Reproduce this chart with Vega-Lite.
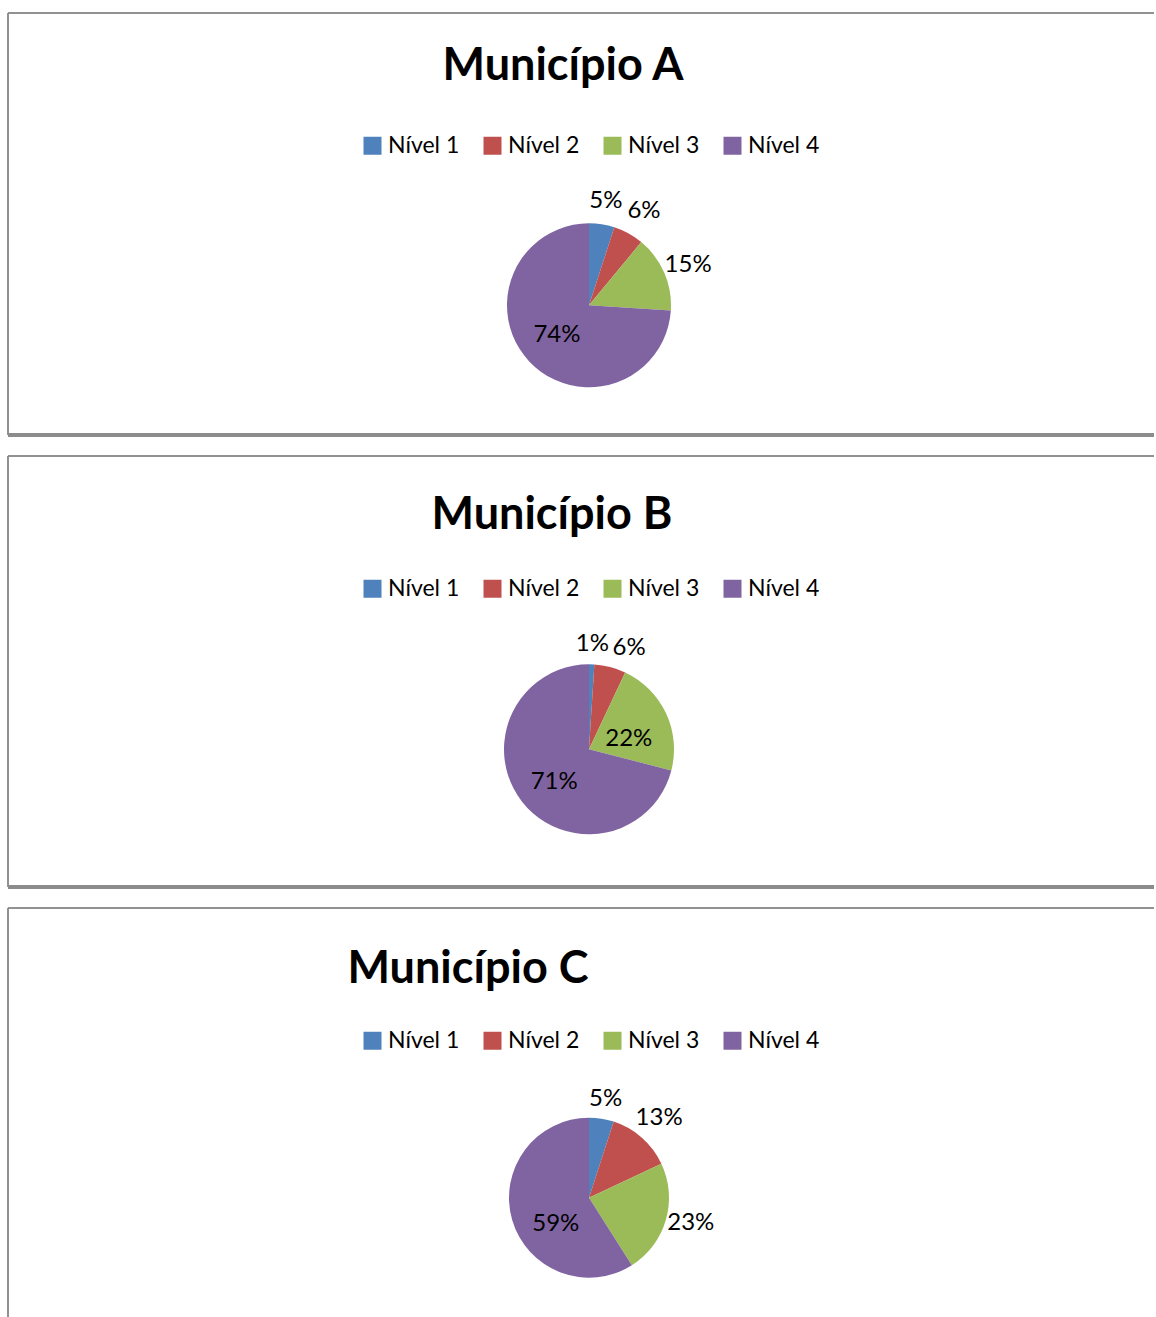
{
  "$schema": "https://vega.github.io/schema/vega-lite/v6.json",
  "background": "white",
  "padding": {"left": 6, "top": 12, "right": 0, "bottom": 0},
  "spacing": 18,
  "datasets": {
    "niveis": [
      {"municipio": "A", "nivel": "Nível 1", "pct": 0.05},
      {"municipio": "A", "nivel": "Nível 2", "pct": 0.06},
      {"municipio": "A", "nivel": "Nível 3", "pct": 0.15},
      {"municipio": "A", "nivel": "Nível 4", "pct": 0.74},
      {"municipio": "B", "nivel": "Nível 1", "pct": 0.01},
      {"municipio": "B", "nivel": "Nível 2", "pct": 0.06},
      {"municipio": "B", "nivel": "Nível 3", "pct": 0.22},
      {"municipio": "B", "nivel": "Nível 4", "pct": 0.71},
      {"municipio": "C", "nivel": "Nível 1", "pct": 0.05},
      {"municipio": "C", "nivel": "Nível 2", "pct": 0.13},
      {"municipio": "C", "nivel": "Nível 3", "pct": 0.23},
      {"municipio": "C", "nivel": "Nível 4", "pct": 0.59}
    ]
  },
  "config": {
    "view": {"stroke": null},
    "font": "Lato",
    "title": {"font": "Lato", "fontWeight": "bold", "fontSize": 45, "color": "black", "anchor": "middle", "baseline": "alphabetic", "frame": "group"},
    "legend": {
      "orient": "none", "direction": "horizontal", "title": null,
      "symbolType": "square", "symbolSize": 324, "symbolStrokeWidth": 0,
      "labelFont": "Lato", "labelFontSize": 23, "labelColor": "black",
      "labelOffset": 4, "columnPadding": 21, "legendX": 353, "legendY": 121
    }
  },
  "resolve": {"scale": {"color": "independent"}, "legend": {"color": "independent"}},
  "vconcat": [
    {
      "width": 1146, "height": 422,
      "title": {"text": "Município A", "offset": -76, "dx": -18},
      "data": {"name": "niveis"},
      "transform": [{"filter": "datum.municipio == 'A'"}],
      "encoding": {
        "theta": {"field": "pct", "type": "quantitative", "stack": true},
        "order": {"field": "nivel", "type": "ordinal", "sort": "ascending"}
      },
      "layer": [
        {
          "mark": {"type": "rule", "color": "#8a8a8a", "strokeWidth": 1},
          "encoding": {"y": {"value": 0}, "theta": null, "order": null}
        },
        {
          "mark": {"type": "rule", "color": "#8a8a8a", "strokeWidth": 1},
          "encoding": {"x": {"value": 0}, "theta": null, "order": null}
        },
        {
          "mark": {"type": "rule", "color": "#8c8c8c", "strokeWidth": 4},
          "encoding": {"y": {"value": "height"}, "theta": null, "order": null}
        },
        {
          "mark": {"type": "arc", "outerRadius": 82, "xOffset": 8, "yOffset": 81.3},
          "encoding": {
            "color": {"field": "nivel", "type": "nominal",
              "scale": {"domain": ["Nível 1", "Nível 2", "Nível 3", "Nível 4"], "range": ["#4f81bd", "#c0504d", "#9bbb59", "#8064a2"]}}
          }
        },
        {
          "mark": {"type": "text", "font": "Lato", "fontSize": 24, "color": "black", "align": "center", "baseline": "middle",
            "xOffset": 8, "yOffset": 81.3, "radius": {"expr": "datum.pct < 0.2 ? 108 : 44"},
            "dx": {"expr": "datum.nivel == 'Nível 2' ? 3 : 0"},
            "dy": {"expr": "datum.nivel == 'Nível 1' ? 2 : datum.nivel == 'Nível 3' ? 3 : 0"}},
          "encoding": {
            "detail": {"field": "nivel", "type": "nominal"},
            "text": {"field": "pct", "type": "quantitative", "format": ".0%"}
          }
        }
      ]
    },
    {
      "width": 1146, "height": 431,
      "title": {"text": "Município B", "offset": -82, "dx": -29},
      "data": {"name": "niveis"},
      "transform": [{"filter": "datum.municipio == 'B'"}],
      "encoding": {
        "theta": {"field": "pct", "type": "quantitative", "stack": true},
        "order": {"field": "nivel", "type": "ordinal", "sort": "ascending"}
      },
      "layer": [
        {
          "mark": {"type": "rule", "color": "#8a8a8a", "strokeWidth": 1},
          "encoding": {"y": {"value": 0}, "theta": null, "order": null}
        },
        {
          "mark": {"type": "rule", "color": "#8a8a8a", "strokeWidth": 1},
          "encoding": {"x": {"value": 0}, "theta": null, "order": null}
        },
        {
          "mark": {"type": "rule", "color": "#8c8c8c", "strokeWidth": 4},
          "encoding": {"y": {"value": "height"}, "theta": null, "order": null}
        },
        {
          "mark": {"type": "arc", "outerRadius": 85, "xOffset": 8, "yOffset": 77.8},
          "encoding": {
            "color": {"field": "nivel", "type": "nominal",
              "scale": {"domain": ["Nível 1", "Nível 2", "Nível 3", "Nível 4"], "range": ["#4f81bd", "#c0504d", "#9bbb59", "#8064a2"]}}
          }
        },
        {
          "mark": {"type": "text", "font": "Lato", "fontSize": 24, "color": "black", "align": "center", "baseline": "middle",
            "xOffset": 8, "yOffset": 77.8, "radius": {"expr": "datum.pct < 0.2 ? 105 : 44"},
            "dx": {"expr": "datum.nivel == 'Nível 2' ? 14 : 0"},
            "dy": {"expr": "datum.nivel == 'Nível 3' ? 8 : datum.nivel == 'Nível 4' ? 6 : 0"}},
          "encoding": {
            "detail": {"field": "nivel", "type": "nominal"},
            "text": {"field": "pct", "type": "quantitative", "format": ".0%"}
          }
        }
      ]
    },
    {
      "width": 1146, "height": 409,
      "title": {"text": "Município C", "offset": -84, "dx": -113},
      "data": {"name": "niveis"},
      "transform": [{"filter": "datum.municipio == 'C'"}],
      "encoding": {
        "theta": {"field": "pct", "type": "quantitative", "stack": true},
        "order": {"field": "nivel", "type": "ordinal", "sort": "ascending"}
      },
      "layer": [
        {
          "mark": {"type": "rule", "color": "#8a8a8a", "strokeWidth": 1},
          "encoding": {"y": {"value": 0}, "theta": null, "order": null}
        },
        {
          "mark": {"type": "rule", "color": "#8a8a8a", "strokeWidth": 1},
          "encoding": {"x": {"value": 0}, "theta": null, "order": null}
        },
        {
          "mark": {"type": "arc", "outerRadius": 80, "xOffset": 8, "yOffset": 85.2},
          "encoding": {
            "color": {"field": "nivel", "type": "nominal",
              "scale": {"domain": ["Nível 1", "Nível 2", "Nível 3", "Nível 4"], "range": ["#4f81bd", "#c0504d", "#9bbb59", "#8064a2"]}}
          }
        },
        {
          "mark": {"type": "text", "font": "Lato", "fontSize": 24, "color": "black", "align": "center", "baseline": "middle",
            "xOffset": 8, "yOffset": 85.2, "radius": {"expr": "datum.pct < 0.3 ? 106 : 44"},
            "dx": {"expr": "datum.nivel == 'Nível 4' ? 9 : 0"},
            "dy": {"expr": "datum.nivel == 'Nível 4' ? 14 : datum.nivel == 'Nível 1' ? 6 : datum.nivel == 'Nível 3' ? -4 : 0"}},
          "encoding": {
            "detail": {"field": "nivel", "type": "nominal"},
            "text": {"field": "pct", "type": "quantitative", "format": ".0%"}
          }
        }
      ]
    }
  ]
}
